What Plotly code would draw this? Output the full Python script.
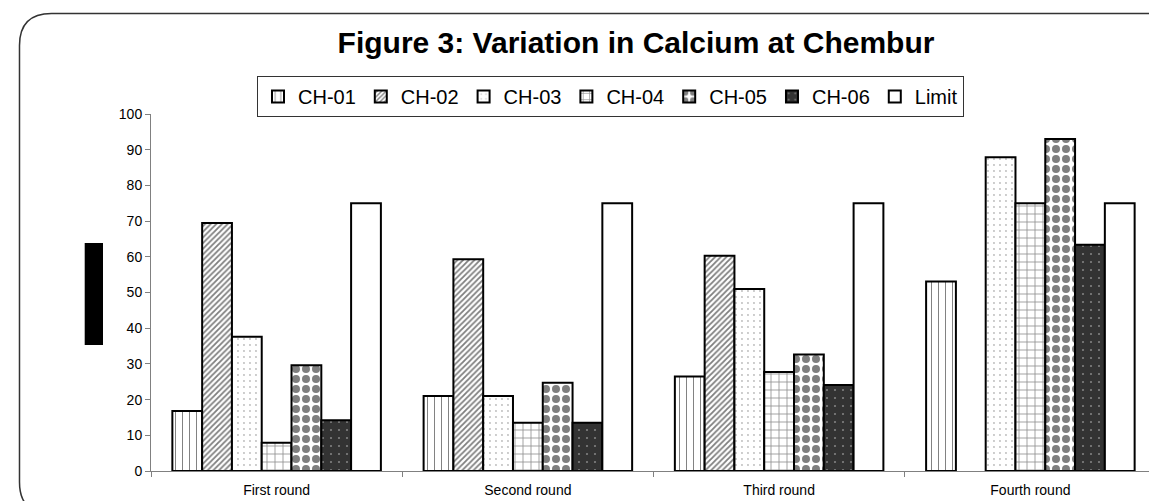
import plotly.graph_objects as go

rounds = ["First round", "Second round", "Third round", "Fourth round"]
ch01 = [16.8, 21.0, 26.5, 53.1]
ch02 = [69.5, 59.3, 60.3, None]
ch03 = [37.6, 21.0, 51.0, 87.9]
ch04 = [7.9, 13.5, 27.7, 75.0]
ch05 = [29.6, 24.7, 32.6, 93.0]
ch06 = [14.2, 13.5, 24.1, 63.4]
limit = [75.0, 75.0, 75.0, 75.0]

names = ["CH-01", "CH-02", "CH-03", "CH-04", "CH-05", "CH-06", "Limit"]
series = [ch01, ch02, ch03, ch04, ch05, ch06, limit]
patterns = [
    dict(shape="|", fgcolor="black", bgcolor="white", size=7, solidity=0.14),
    dict(shape="/", fgcolor="black", bgcolor="white", size=4, solidity=0.45),
    dict(shape=".", fgcolor="#777777", bgcolor="white", size=6, solidity=0.08),
    dict(shape="+", fgcolor="#222222", bgcolor="white", size=8, solidity=0.2),
    dict(shape=".", fgcolor="black", bgcolor="white", size=10, solidity=0.5),
    dict(shape=".", fgcolor="#cccccc", bgcolor="#333333", size=8, solidity=0.06),
    dict(shape="", fgcolor="white", bgcolor="white"),
]

FONT = "Liberation Sans, Arial, sans-serif"
fig = go.Figure()
for n, v, p in zip(names, series, patterns):
    fig.add_trace(go.Bar(
        x=rounds, y=v, name=n,
        marker=dict(color=p["bgcolor"], pattern=p,
                    line=dict(color="black", width=2)),
    ))

W, H = 1157, 501
ML, MR, MT, MB = 143, 9, 106, 38
PW, PH = W - ML - MR, H - MT - MB


def X(px):
    return (px - ML) / PW


def Y(py):
    return (H - MB - py) / PH


# rounded chart-area border (pixel geometry converted to paper coords)
L_, T_, R_, B_, r = 11.5, 5.5, 1172, 506, 32
pts = [
    ("M", L_, T_ + r), ("Q", L_, T_, L_ + r, T_), ("L", R_ - r, T_),
    ("Q", R_, T_, R_, T_ + r), ("L", R_, B_ - r), ("Q", R_, B_, R_ - r, B_),
    ("L", L_ + r, B_), ("Q", L_, B_, L_, B_ - r),
]
path = ""
for cmd, *c in pts:
    coords = []
    for i in range(0, len(c), 2):
        coords.append(f"{X(c[i]):.5f},{Y(c[i+1]):.5f}")
    path += cmd + " ".join(coords) + " "
path += "Z"

fig.update_layout(
    width=W, height=H,
    margin=dict(l=ML, r=MR, t=MT, b=MB),
    paper_bgcolor="white", plot_bgcolor="white",
    barmode="group", bargap=0.17, bargroupgap=0,
    font=dict(family=FONT, color="black"),
    title=dict(text="<b>Figure 3: Variation in Calcium at Chembur</b>",
               font=dict(family=FONT, size=30, color="black"),
               x=628 / W, xanchor="center", xref="container",
               y=1 - 34 / H, yanchor="middle", yref="container"),
    legend=dict(orientation="h", x=X(249), xanchor="left", y=Y(68), yanchor="top",
                bordercolor="#333333", borderwidth=1, bgcolor="white",
                font=dict(family=FONT, size=20, color="black"),
                itemwidth=30, tracegroupgap=0),
    showlegend=True,
    xaxis=dict(showline=True, linecolor="#808080", linewidth=1,
               ticks="outside", tickson="boundaries", ticklen=5, tickcolor="#808080",
               tickfont=dict(family=FONT, size=14, color="black"),
               showgrid=False, zeroline=False, ticklabelstandoff=6),
    yaxis=dict(range=[0, 100], dtick=10, showline=True, linecolor="#808080",
               linewidth=1, ticks="outside", ticklen=5, tickcolor="#808080",
               tickfont=dict(family=FONT, size=14, color="black"),
               showgrid=False, zeroline=False),
    shapes=[
        dict(type="path", xref="paper", yref="paper", path=path,
             line=dict(color="#333333", width=1.5), layer="below"),
        dict(type="rect", xref="paper", yref="paper",
             x0=X(76.7), x1=X(95), y0=Y(337), y1=Y(235),
             fillcolor="black", line=dict(width=0)),
    ],
)

fig.write_html("out.html")
